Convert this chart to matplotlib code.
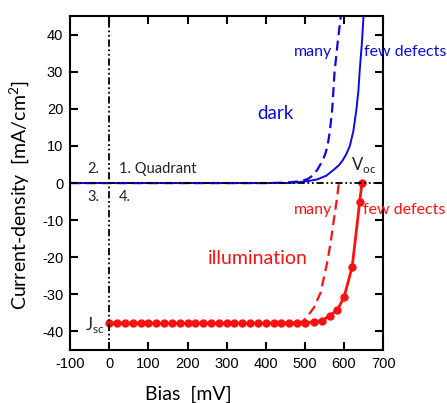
import matplotlib
matplotlib.use('Agg')
import matplotlib.pyplot as plt

plt.rcParams['font.family'] = ['Lato', 'DejaVu Sans']
plt.rcParams['mathtext.fontset'] = 'custom'
plt.rcParams['mathtext.rm'] = 'Lato'
plt.rcParams['axes.unicode_minus'] = False

BLUE = '#0a0ae6'
RED = '#ff1010'

# dark J-V curves
bias_dark_few = [-100, 0, 100, 200, 300, 400, 460, 490, 512, 532, 555, 574, 587, 596,
                 606, 615, 624, 632, 637, 640, 643, 646, 648, 650]
j_dark_few = [0, 0, 0, 0, 0, 0, 0, 0.3, 0.6, 1, 2, 3.6, 4.8, 6,
              7.8, 10, 14, 20, 25, 30, 34, 38, 41.5, 45]
bias_dark_many = [-100, 0, 100, 200, 300, 400, 450, 480, 506, 520, 532, 545, 552, 558,
                  564, 570, 573, 576, 580, 584, 588, 592]
j_dark_many = [0, 0, 0, 0, 0, 0, 0.1, 0.4, 1, 2, 3.6, 6, 7.8, 10,
               14, 20, 25, 30, 34, 38, 41.5, 45]

# illuminated J-V curves
bias_ill_few = [0, 20, 40, 60, 80, 100, 120, 140, 160, 180, 200, 220, 240, 260, 280, 300,
                320, 340, 360, 380, 400, 420, 440, 460, 480, 500,
                523, 544, 564, 583, 600, 621, 640, 646]
j_ill_few = [-37.8, -37.8, -37.8, -37.8, -37.8, -37.8, -37.8, -37.8, -37.8, -37.8, -37.8,
             -37.8, -37.8, -37.8, -37.8, -37.8, -37.8, -37.8, -37.8, -37.8, -37.8, -37.8,
             -37.8, -37.8, -37.8, -37.7, -37.4, -37.1, -35.7, -34.2, -30.8, -22.6, -5.2, 0]
bias_ill_many = [480, 494, 506, 523, 540, 557, 566, 574, 581, 587]
j_ill_many = [-37.8, -37.3, -36, -33.6, -29.6, -21.5, -16, -10, -5, 0]

fig = plt.figure(figsize=(4.47, 4.03), dpi=100)
ax = fig.add_axes([0.157, 0.1315, 0.70, 0.8285])

ax.plot(bias_dark_few, j_dark_few, color=BLUE, lw=1.4, zorder=2)
ax.plot(bias_dark_many, j_dark_many, color=BLUE, lw=1.6, ls=(0, (4.5, 2.5)), zorder=2)
ax.plot(bias_ill_many, j_ill_many, color=RED, lw=1.6, ls=(0, (4.5, 2.5)), zorder=2)
ax.plot(bias_ill_few, j_ill_few, color=RED, lw=2, marker='o', ms=5, zorder=3)

# axes through the origin
zero_ls = (0, (4, 1.5, 1, 1.5, 1, 1.5))
ax.axhline(0, color='black', lw=1.3, ls=zero_ls, zorder=4)
ax.axvline(0, color='black', lw=1.3, ls=zero_ls, zorder=4)

ax.set_xlim(-100, 700)
ax.set_ylim(-45, 45)
ax.set_xticks(range(-100, 701, 100))
ax.set_yticks(range(-40, 41, 10))
ax.tick_params(direction='in', top=True, right=True, length=6, width=1.5,
               labelsize=10.5, pad=5, labelfontfamily='Liberation Sans')
for sp in ax.spines.values():
    sp.set_linewidth(1.5)

ax.set_xlabel('Bias  [mV]', fontsize=14)
ax.set_ylabel('Current-density  [mA/cm$^2$]', fontsize=14)
ax.xaxis.set_label_coords(0.377, -0.108)
ax.yaxis.set_label_coords(-0.121, 0.464)

ax.text(570, 35.4, 'many', color=BLUE, fontsize=11.5, ha='right', va='center')
ax.text(651, 35.4, 'few defects', color=BLUE, fontsize=11.5, ha='left', va='center', clip_on=False)
ax.text(424, 18.7, 'dark', color=BLUE, fontsize=13.5, ha='center', va='center')
ax.text(380, -20.4, 'illumination', color=RED, fontsize=14, ha='center', va='center')
ax.text(570, -7.2, 'many', color=RED, fontsize=11.5, ha='right', va='center')
ax.text(649, -7.2, 'few defects', color=RED, fontsize=11.5, ha='left', va='center', clip_on=False)
ax.text(651, 4.9, r'V$_\mathregular{oc}$', color='#222222', fontsize=12, ha='center', va='center')
ax.text(-37, -38.2, r'J$_\mathregular{sc}$', color='#222222', fontsize=12, ha='center', va='center')

ax.text(-55, 3.9, '2.', color='#222222', fontsize=10.5, va='center')
ax.text(25, 3.9, '1. Quadrant', color='#222222', fontsize=10.5, va='center')
ax.text(-55, -3.7, '3.', color='#222222', fontsize=10.5, va='center')
ax.text(25, -3.7, '4.', color='#222222', fontsize=10.5, va='center')

fig.savefig('out.png', dpi=100)
